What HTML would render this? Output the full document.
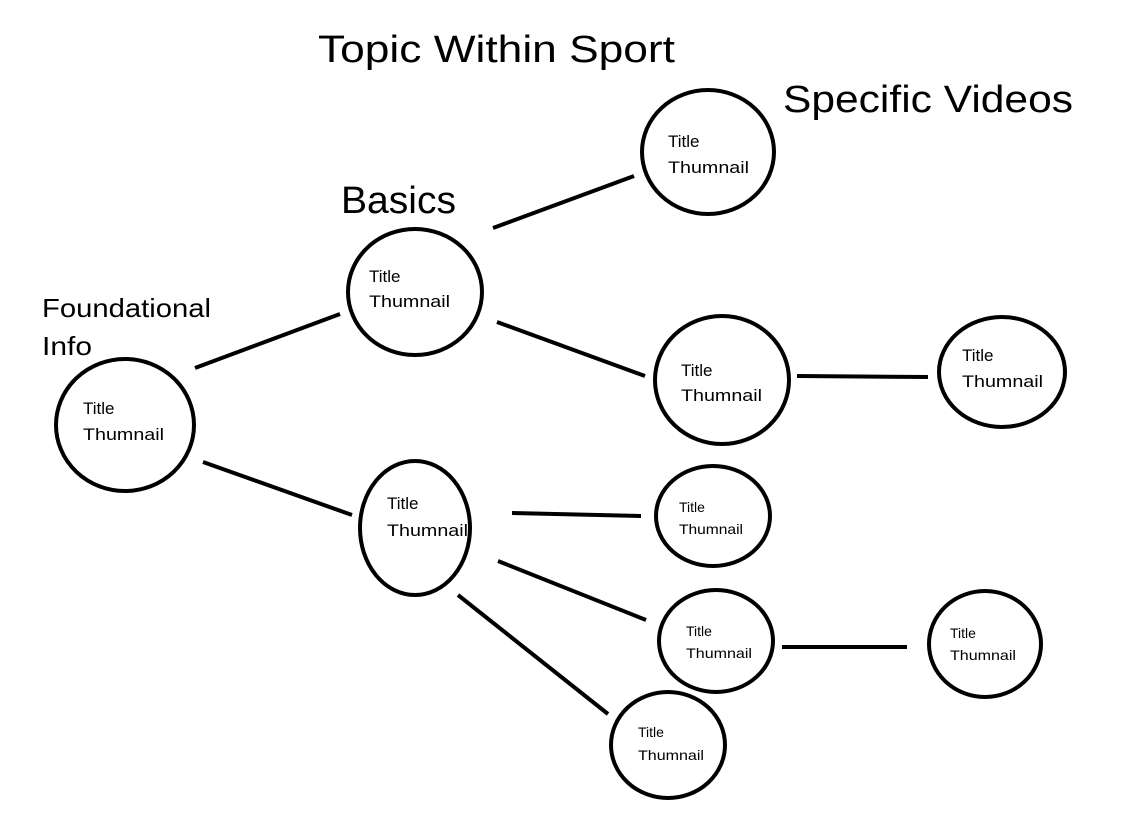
<!DOCTYPE html>
<html><head><meta charset="utf-8"><style>
html,body{margin:0;padding:0;background:#fff;}
svg{display:block;}
text{font-family:"Liberation Sans",sans-serif;fill:#000;}
</style></head><body>
<svg width="1133" height="820" viewBox="0 0 1133 820" xmlns="http://www.w3.org/2000/svg">
<g fill="none" stroke="#000" stroke-width="4">
<ellipse cx="125" cy="425" rx="69" ry="66"/>
<ellipse cx="415" cy="292" rx="67" ry="63"/>
<ellipse cx="708" cy="152" rx="66" ry="62"/>
<ellipse cx="722" cy="380" rx="67" ry="64"/>
<ellipse cx="1002" cy="372" rx="63" ry="55"/>
<ellipse cx="415" cy="528" rx="55" ry="67"/>
<ellipse cx="713" cy="516" rx="57" ry="50"/>
<ellipse cx="716" cy="641" rx="57" ry="51"/>
<ellipse cx="985" cy="644" rx="56" ry="53"/>
<ellipse cx="668" cy="745" rx="57" ry="53"/>
<line x1="195" y1="368" x2="340" y2="314"/>
<line x1="203" y1="462" x2="352" y2="515"/>
<line x1="493" y1="228" x2="634" y2="176"/>
<line x1="497" y1="322" x2="645" y2="376"/>
<line x1="797" y1="376" x2="928" y2="377"/>
<line x1="512" y1="513" x2="641" y2="516"/>
<line x1="498" y1="561" x2="646" y2="620"/>
<line x1="458" y1="595" x2="608" y2="714"/>
<line x1="782" y1="647" x2="907" y2="647"/>
</g>
<text x="318" y="62" font-size="38" textLength="357" lengthAdjust="spacingAndGlyphs">Topic Within Sport</text>
<text x="783" y="112" font-size="38" textLength="290" lengthAdjust="spacingAndGlyphs">Specific Videos</text>
<text x="341" y="213" font-size="38" textLength="115" lengthAdjust="spacingAndGlyphs">Basics</text>
<text x="42" y="317" font-size="26" textLength="169" lengthAdjust="spacingAndGlyphs">Foundational</text>
<text x="42" y="355" font-size="26" textLength="50" lengthAdjust="spacingAndGlyphs">Info</text>
<g font-size="17">
<text x="83" y="414">Title</text><text x="83" y="440" textLength="81" lengthAdjust="spacingAndGlyphs">Thumnail</text>
<text x="369" y="282">Title</text><text x="369" y="307" textLength="81" lengthAdjust="spacingAndGlyphs">Thumnail</text>
<text x="668" y="147">Title</text><text x="668" y="173" textLength="81" lengthAdjust="spacingAndGlyphs">Thumnail</text>
<text x="681" y="376">Title</text><text x="681" y="401" textLength="81" lengthAdjust="spacingAndGlyphs">Thumnail</text>
<text x="962" y="361">Title</text><text x="962" y="387" textLength="81" lengthAdjust="spacingAndGlyphs">Thumnail</text>
<text x="387" y="509">Title</text><text x="387" y="536" textLength="81" lengthAdjust="spacingAndGlyphs">Thumnail</text>
</g>
<g font-size="14">
<text x="679" y="512">Title</text><text x="679" y="534" textLength="64" lengthAdjust="spacingAndGlyphs">Thumnail</text>
<text x="686" y="636">Title</text><text x="686" y="658" textLength="66" lengthAdjust="spacingAndGlyphs">Thumnail</text>
<text x="950" y="638">Title</text><text x="950" y="660" textLength="66" lengthAdjust="spacingAndGlyphs">Thumnail</text>
<text x="638" y="737">Title</text><text x="638" y="760" textLength="66" lengthAdjust="spacingAndGlyphs">Thumnail</text>
</g>
</svg>
</body></html>
